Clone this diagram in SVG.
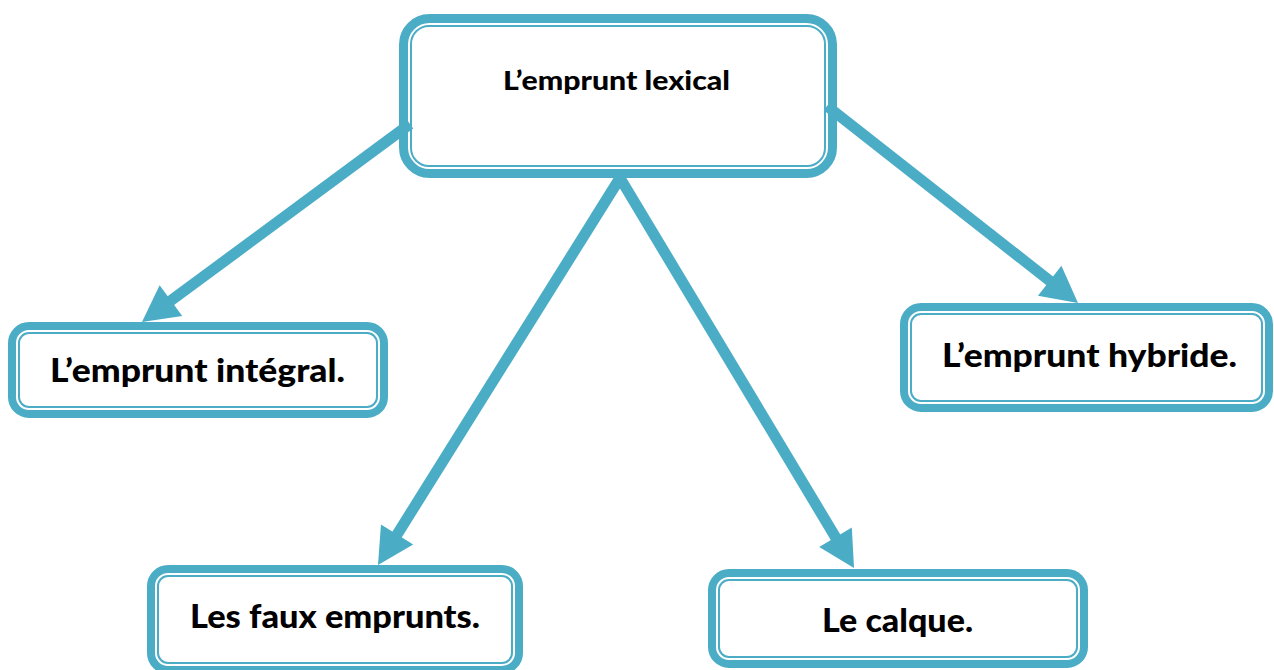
<svg xmlns="http://www.w3.org/2000/svg" width="1274" height="670" viewBox="0 0 1274 670">
  <style>
    .frame { fill: #ffffff; stroke: #4BACC6; stroke-width: 8; }
    .inner { fill: none; stroke: #4BACC6; stroke-width: 2; }
    .label { font-family: Lato, "Open Sans", "Liberation Sans", sans-serif; font-weight: 900; fill: #000000; text-anchor: middle; }
    .link { stroke: #4BACC6; stroke-width: 11; fill: none; marker-end: url(#head); }
  </style>
  <defs>
    <marker id="head" markerUnits="userSpaceOnUse" markerWidth="40" markerHeight="40" refX="6" refY="19" orient="auto" overflow="visible">
      <path d="M0,0 L36,19 L0,38 z" fill="#4BACC6"/>
    </marker>
  </defs>
  <rect width="1274" height="670" fill="#ffffff"/>

  <!-- root -->
  <g id="emprunt-lexical">
    <rect class="frame" x="403.5" y="18.5" width="429" height="155" rx="26" style="stroke-width:9"/>
    <rect class="inner" x="411" y="26" width="414" height="140" rx="18"/>
    <text class="label" x="616.5" y="90" font-size="26" textLength="227" lengthAdjust="spacingAndGlyphs">L’emprunt lexical</text>
  </g>

  <g id="emprunt-integral">
    <rect class="frame" x="12" y="326" width="372" height="88" rx="17"/>
    <rect class="inner" x="19" y="333" width="358" height="74" rx="10"/>
    <text class="label" x="197.5" y="382" font-size="32" textLength="295" lengthAdjust="spacingAndGlyphs">L’emprunt intégral.</text>
  </g>

  <g id="emprunt-hybride">
    <rect class="frame" x="904" y="307" width="365" height="101" rx="17"/>
    <rect class="inner" x="911" y="314" width="351" height="87" rx="10"/>
    <text class="label" x="1089.5" y="367" font-size="32" textLength="295" lengthAdjust="spacingAndGlyphs">L’emprunt hybride.</text>
  </g>

  <g id="faux-emprunts">
    <rect class="frame" x="151" y="569" width="368" height="101" rx="17"/>
    <rect class="inner" x="158" y="576" width="354" height="87" rx="10"/>
    <text class="label" x="335" y="628" font-size="32" textLength="290" lengthAdjust="spacingAndGlyphs">Les faux emprunts.</text>
  </g>

  <g id="calque">
    <rect class="frame" x="712" y="573" width="372" height="91" rx="17"/>
    <rect class="inner" x="719" y="580" width="358" height="77" rx="10"/>
    <text class="label" x="897.5" y="632" font-size="32" textLength="151" lengthAdjust="spacingAndGlyphs">Le calque.</text>
  </g>

  <g id="connectors">
    <line class="link" x1="410" y1="124" x2="166.1" y2="304.2"/>
    <line class="link" x1="620" y1="178" x2="393.9" y2="539.6"/>
    <line class="link" x1="620" y1="178" x2="838.6" y2="542.3"/>
    <line class="link" x1="827" y1="106" x2="1054.4" y2="284.5"/>
  </g>
</svg>
